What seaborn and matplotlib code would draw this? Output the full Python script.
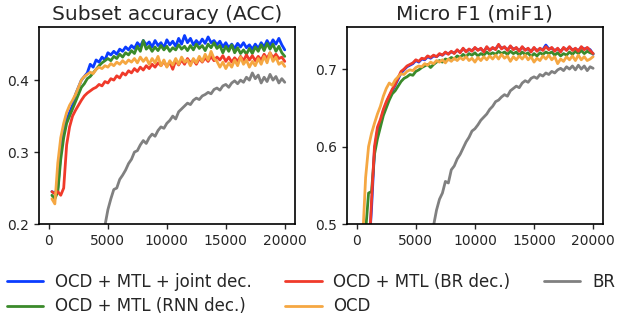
import numpy as np
import pandas as pd
import matplotlib
matplotlib.use("Agg")
import matplotlib.pyplot as plt
import seaborn as sns

# training steps, one value every 250 steps
steps = np.arange(250, 20001, 250)

methods = ["OCD + MTL + joint dec.", "OCD + MTL (RNN dec.)", "OCD + MTL (BR dec.)", "OCD", "BR"]
colors = ["#0a3cff", "#3a8a2a", "#f03a2a", "#f5a742", "#808080"]

# Subset accuracy (ACC)
acc_joint = [0.245, 0.243, 0.25, 0.30, 0.33, 0.345, 0.355, 0.365, 0.38, 0.39,
             0.40, 0.405, 0.41, 0.422, 0.418, 0.428, 0.425, 0.432, 0.428, 0.438,
             0.435, 0.44, 0.436, 0.443, 0.44, 0.446, 0.442, 0.448, 0.444, 0.452,
             0.447, 0.455, 0.449, 0.453, 0.446, 0.455, 0.448, 0.452, 0.445, 0.456,
             0.449, 0.454, 0.447, 0.458, 0.45, 0.462, 0.452, 0.458, 0.449, 0.455,
             0.45, 0.457, 0.451, 0.46, 0.452, 0.455, 0.449, 0.454, 0.446, 0.452,
             0.445, 0.45, 0.444, 0.451, 0.446, 0.452, 0.445, 0.449, 0.443, 0.45,
             0.444, 0.452, 0.446, 0.455, 0.448, 0.456, 0.45, 0.458, 0.449, 0.442]
acc_rnn = [0.24, 0.235, 0.245, 0.29, 0.32, 0.34, 0.35, 0.36, 0.37, 0.38,
           0.39, 0.395, 0.402, 0.405, 0.41, 0.415, 0.42, 0.424, 0.427, 0.43,
           0.427, 0.433, 0.43, 0.436, 0.432, 0.438, 0.435, 0.441, 0.437, 0.447,
           0.44, 0.455, 0.443, 0.447, 0.44, 0.446, 0.441, 0.448, 0.442, 0.447,
           0.44, 0.445, 0.442, 0.449, 0.443, 0.447, 0.441, 0.448, 0.442, 0.45,
           0.444, 0.448, 0.441, 0.45, 0.445, 0.452, 0.444, 0.448, 0.438, 0.447,
           0.44, 0.449, 0.438, 0.445, 0.437, 0.442, 0.436, 0.444, 0.437, 0.446,
           0.44, 0.449, 0.441, 0.451, 0.443, 0.45, 0.44, 0.447, 0.438, 0.433]
acc_br_dec = [0.245, 0.242, 0.245, 0.24, 0.25, 0.31, 0.335, 0.35, 0.358, 0.365,
              0.372, 0.378, 0.382, 0.385, 0.388, 0.39, 0.394, 0.392, 0.398, 0.396,
              0.402, 0.40, 0.406, 0.403, 0.41, 0.407, 0.413, 0.41, 0.416, 0.412,
              0.418, 0.414, 0.42, 0.416, 0.422, 0.418, 0.424, 0.42, 0.426, 0.419,
              0.425, 0.415, 0.427, 0.421, 0.428, 0.422, 0.43, 0.424, 0.428, 0.422,
              0.43, 0.425, 0.431, 0.426, 0.433, 0.427, 0.432, 0.428, 0.434, 0.426,
              0.432, 0.425, 0.431, 0.426, 0.433, 0.427, 0.435, 0.428, 0.434, 0.427,
              0.433, 0.428, 0.436, 0.43, 0.438, 0.431, 0.436, 0.43, 0.432, 0.426]
acc_ocd = [0.235, 0.228, 0.285, 0.32, 0.34, 0.355, 0.365, 0.372, 0.38, 0.39,
           0.40, 0.405, 0.408, 0.411, 0.409, 0.415, 0.418, 0.416, 0.42, 0.418,
           0.423, 0.42, 0.425, 0.422, 0.427, 0.423, 0.428, 0.425, 0.43, 0.424,
           0.432, 0.426, 0.431, 0.422, 0.43, 0.424, 0.433, 0.42, 0.428, 0.418,
           0.427, 0.421, 0.43, 0.422, 0.432, 0.425, 0.428, 0.42, 0.43, 0.424,
           0.433, 0.426, 0.436, 0.428, 0.44, 0.43, 0.426, 0.418, 0.425, 0.416,
           0.424, 0.418, 0.428, 0.42, 0.432, 0.422, 0.428, 0.418, 0.426, 0.42,
           0.43, 0.422, 0.433, 0.424, 0.438, 0.426, 0.432, 0.422, 0.425, 0.419]
acc_br = [0.10, 0.10, 0.10, 0.10, 0.105, 0.105, 0.11, 0.11, 0.115, 0.12,
          0.125, 0.13, 0.135, 0.14, 0.15, 0.16, 0.17, 0.185, 0.198, 0.22,
          0.235, 0.248, 0.25, 0.262, 0.268, 0.275, 0.284, 0.29, 0.30, 0.302,
          0.31, 0.316, 0.312, 0.32, 0.325, 0.322, 0.33, 0.335, 0.333, 0.34,
          0.344, 0.35, 0.346, 0.356, 0.36, 0.364, 0.368, 0.366, 0.372, 0.375,
          0.373, 0.378, 0.38, 0.383, 0.381, 0.387, 0.389, 0.386, 0.392, 0.394,
          0.39, 0.396, 0.399, 0.395, 0.40, 0.397, 0.404, 0.40, 0.41, 0.402,
          0.407, 0.396, 0.404, 0.398, 0.408, 0.40, 0.405, 0.396, 0.402, 0.397]

# Micro F1 (miF1)
f1_joint = [0.30, 0.35, 0.40, 0.46, 0.52, 0.595, 0.62, 0.632, 0.646, 0.656,
            0.665, 0.672, 0.679, 0.687, 0.695, 0.699, 0.703, 0.705, 0.707, 0.711,
            0.709, 0.713, 0.712, 0.716, 0.714, 0.717, 0.716, 0.719, 0.718, 0.721,
            0.72, 0.722, 0.721, 0.724, 0.722, 0.726, 0.723, 0.725, 0.724, 0.727,
            0.725, 0.726, 0.723, 0.728, 0.725, 0.727, 0.726, 0.731, 0.727, 0.728,
            0.725, 0.729, 0.726, 0.727, 0.724, 0.728, 0.725, 0.726, 0.723, 0.727,
            0.724, 0.726, 0.725, 0.731, 0.726, 0.727, 0.724, 0.726, 0.723, 0.727,
            0.725, 0.728, 0.725, 0.726, 0.724, 0.728, 0.726, 0.727, 0.725, 0.719]
f1_rnn = [0.35, 0.42, 0.49, 0.54, 0.542, 0.59, 0.61, 0.625, 0.64, 0.65,
          0.66, 0.668, 0.672, 0.678, 0.684, 0.688, 0.69, 0.693, 0.692, 0.697,
          0.699, 0.702, 0.704, 0.706, 0.702, 0.706, 0.709, 0.711, 0.709, 0.713,
          0.712, 0.715, 0.713, 0.717, 0.715, 0.719, 0.716, 0.72, 0.718, 0.721,
          0.717, 0.72, 0.718, 0.722, 0.719, 0.721, 0.719, 0.723, 0.72, 0.722,
          0.719, 0.723, 0.72, 0.722, 0.718, 0.722, 0.719, 0.721, 0.716, 0.72,
          0.717, 0.721, 0.719, 0.722, 0.72, 0.722, 0.718, 0.721, 0.717, 0.72,
          0.718, 0.722, 0.719, 0.723, 0.72, 0.724, 0.72, 0.723, 0.721, 0.72]
f1_br_dec = [0.30, 0.35, 0.40, 0.45, 0.53, 0.60, 0.625, 0.635, 0.648, 0.658,
             0.666, 0.674, 0.68, 0.689, 0.697, 0.70, 0.704, 0.706, 0.708, 0.712,
             0.71, 0.714, 0.713, 0.717, 0.715, 0.718, 0.716, 0.72, 0.718, 0.722,
             0.719, 0.723, 0.72, 0.725, 0.721, 0.727, 0.722, 0.726, 0.723, 0.728,
             0.724, 0.727, 0.722, 0.729, 0.724, 0.728, 0.725, 0.732, 0.726, 0.729,
             0.724, 0.73, 0.725, 0.728, 0.723, 0.729, 0.724, 0.727, 0.722, 0.728,
             0.723, 0.727, 0.724, 0.729, 0.725, 0.728, 0.723, 0.727, 0.722, 0.728,
             0.724, 0.729, 0.724, 0.727, 0.723, 0.729, 0.725, 0.728, 0.724, 0.72]
f1_ocd = [0.40, 0.48, 0.56, 0.60, 0.617, 0.63, 0.642, 0.652, 0.665, 0.675,
          0.682, 0.679, 0.686, 0.69, 0.694, 0.693, 0.697, 0.699, 0.698, 0.702,
          0.704, 0.703, 0.707, 0.705, 0.709, 0.707, 0.711, 0.709, 0.712, 0.708,
          0.713, 0.71, 0.714, 0.711, 0.715, 0.712, 0.716, 0.711, 0.714, 0.709,
          0.715, 0.711, 0.716, 0.712, 0.717, 0.713, 0.718, 0.713, 0.719, 0.714,
          0.717, 0.71, 0.716, 0.712, 0.717, 0.713, 0.718, 0.712, 0.716, 0.709,
          0.714, 0.711, 0.717, 0.713, 0.718, 0.712, 0.716, 0.707, 0.713, 0.71,
          0.716, 0.712, 0.717, 0.711, 0.718, 0.712, 0.716, 0.711, 0.713, 0.716]
f1_br = [0.30, 0.31, 0.32, 0.33, 0.34, 0.35, 0.36, 0.37, 0.38, 0.39,
         0.40, 0.41, 0.415, 0.42, 0.425, 0.43, 0.435, 0.44, 0.445, 0.45,
         0.456, 0.462, 0.468, 0.476, 0.485, 0.498, 0.518, 0.532, 0.54, 0.555,
         0.553, 0.57, 0.575, 0.584, 0.59, 0.598, 0.606, 0.612, 0.62, 0.623,
         0.628, 0.634, 0.638, 0.642, 0.648, 0.652, 0.658, 0.66, 0.664, 0.667,
         0.665, 0.672, 0.675, 0.678, 0.676, 0.682, 0.685, 0.683, 0.688, 0.69,
         0.688, 0.693, 0.691, 0.695, 0.693, 0.697, 0.695, 0.699, 0.701, 0.698,
         0.703, 0.70, 0.704, 0.699, 0.705, 0.70, 0.704, 0.698, 0.703, 0.701]

acc_series = [acc_joint, acc_rnn, acc_br_dec, acc_ocd, acc_br]
f1_series = [f1_joint, f1_rnn, f1_br_dec, f1_ocd, f1_br]


def long_frame(series):
    parts = []
    for name, vals in zip(methods, series):
        parts.append(pd.DataFrame({"step": steps, "value": vals, "method": name}))
    return pd.concat(parts, ignore_index=True)


sns.set_style("ticks")
plt.rcParams["font.family"] = ["DejaVu Sans"]
palette = dict(zip(methods, colors))

fig = plt.figure(figsize=(6.18, 3.16), dpi=100)
ax1 = fig.add_axes([0.063, 0.291, 0.414, 0.624])
ax2 = fig.add_axes([0.561, 0.291, 0.415, 0.624])

panels = [
    (ax1, acc_series, "Subset accuracy (ACC)", (0.2, 0.474), [0.2, 0.3, 0.4]),
    (ax2, f1_series, "Micro F1 (miF1)", (0.5, 0.7545), [0.5, 0.6, 0.7]),
]
for ax, series, title, ylim, yticks in panels:
    sns.lineplot(data=long_frame(series), x="step", y="value", hue="method",
                 hue_order=methods, palette=palette, linewidth=2.0,
                 legend=False, ax=ax)
    ax.set_xlim(-850, 20850)
    ax.set_ylim(*ylim)
    ax.set_xticks([0, 5000, 10000, 15000, 20000])
    ax.set_yticks(yticks)
    ax.set_xlabel("")
    ax.set_ylabel("")
    ax.set_title(title, fontsize=14.5, pad=5)
    ax.tick_params(labelsize=10, length=3.5, width=1.0)
    for sp in ax.spines.values():
        sp.set_linewidth(1.2)
        sp.set_color("black")

fig.legend(ax1.get_lines()[:5], methods, loc="upper center",
           bbox_to_anchor=(0.503, 0.136), ncol=3, frameon=False, fontsize=12,
           handlelength=2.2, handletextpad=0.7, columnspacing=2.0,
           labelspacing=0.38, borderaxespad=0.0, borderpad=0.0)

fig.savefig("out.png", dpi=100)
